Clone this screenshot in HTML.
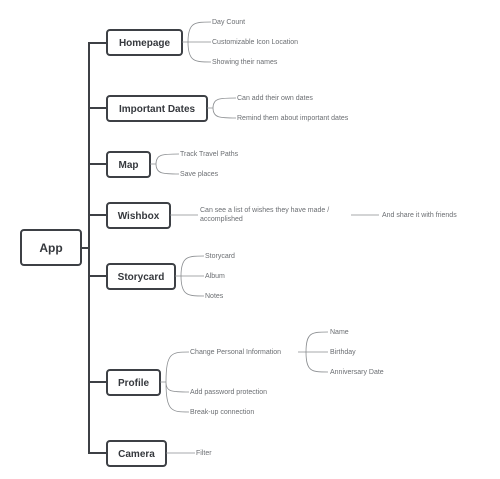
<!DOCTYPE html>
<html><head><meta charset="utf-8"><style>
html,body{margin:0;padding:0;background:#fff;width:500px;height:479px;overflow:hidden}
svg{display:block}
.b{fill:#fff;stroke:#3d4045;stroke-width:2}
.bt{font:bold 10px "Liberation Sans",sans-serif;fill:#35383d}
.t{font:7px "Liberation Sans",sans-serif;fill:#6b6e72}
.l{fill:none;stroke:#8a8d90;stroke-width:0.8}
.tr{fill:none;stroke:#3d4045;stroke-width:2}
</style></head><body>
<svg width="500" height="479" viewBox="0 0 500 479">
<path class="tr" d="M81,248 H88 M94,43 H89 V453 H107 M89,43 H107 M89,108 H107 M89,164 H107 M89,215 H107 M89,276 H107 M89,382 H107"/>
<rect class="b" x="21" y="230" width="60" height="35" rx="3"/><text class="bt" x="51" y="252" text-anchor="middle" style="font-size:12px">App</text>
<rect class="b" x="107" y="30" width="75" height="25" rx="3"/><text class="bt" x="144.5" y="46" text-anchor="middle">Homepage</text>
<rect class="b" x="107" y="96" width="100" height="25" rx="3"/><text class="bt" x="157" y="112" text-anchor="middle">Important Dates</text>
<rect class="b" x="107" y="152" width="43" height="25" rx="3"/><text class="bt" x="128.5" y="168" text-anchor="middle">Map</text>
<rect class="b" x="107" y="203" width="63" height="25" rx="3"/><text class="bt" x="138.5" y="219" text-anchor="middle">Wishbox</text>
<rect class="b" x="107" y="264" width="68" height="25" rx="3"/><text class="bt" x="141" y="280" text-anchor="middle">Storycard</text>
<rect class="b" x="107" y="370" width="53" height="25" rx="3"/><text class="bt" x="133.5" y="386" text-anchor="middle">Profile</text>
<rect class="b" x="107" y="441" width="59" height="25" rx="3"/><text class="bt" x="136.5" y="457" text-anchor="middle">Camera</text>
<!-- Homepage -->
<path class="l" d="M182,42 H188 M188,42 C188,22 195,22 211,22 M188,42 H211 M188,42 C188,62 195,62 211,62"/>
<text class="t" x="212" y="24">Day Count</text><text class="t" x="212" y="44">Customizable Icon Location</text><text class="t" x="212" y="64">Showing their names</text>
<!-- Important -->
<path class="l" d="M207,108 H213 C213,98 220,98 236,98 M213,108 C213,118 220,118 236,118"/>
<text class="t" x="237" y="100">Can add their own dates</text><text class="t" x="237" y="120">Remind them about important dates</text>
<!-- Map -->
<path class="l" d="M150,164 H156 C156,154 163,154 179,154 M156,164 C156,174 163,174 179,174"/>
<text class="t" x="180" y="156">Track Travel Paths</text><text class="t" x="180" y="176">Save places</text>
<!-- Wishbox -->
<path class="l" d="M170,215 H198 M351,215 H379"/>
<text class="t" x="200" y="212">Can see a list of wishes they have made /</text><text class="t" x="200" y="221">accomplished</text>
<text class="t" x="382" y="217">And share it with friends</text>
<!-- Storycard -->
<path class="l" d="M175,276 H181 C181,256 188,256 204,256 M181,276 H204 M181,276 C181,296 188,296 204,296"/>
<text class="t" x="205" y="258">Storycard</text><text class="t" x="205" y="278">Album</text><text class="t" x="205" y="298">Notes</text>
<!-- Profile -->
<path class="l" d="M160,382 H166 C166,352 172,352 189,352 M166,382 C166,392 172,392 189,392 M166,382 C166,412 172,412 189,412"/>
<text class="t" x="190" y="354">Change Personal Information</text><text class="t" x="190" y="394">Add password protection</text><text class="t" x="190" y="414">Break-up connection</text>
<path class="l" d="M298,352 H306 C306,332 312,332 328,332 M306,352 H328 M306,352 C306,372 312,372 328,372"/>
<text class="t" x="330" y="334">Name</text><text class="t" x="330" y="354">Birthday</text><text class="t" x="330" y="374">Anniversary Date</text>
<!-- Camera -->
<path class="l" d="M166,453 H195"/>
<text class="t" x="196" y="455">Filter</text>
</svg>
</body></html>
